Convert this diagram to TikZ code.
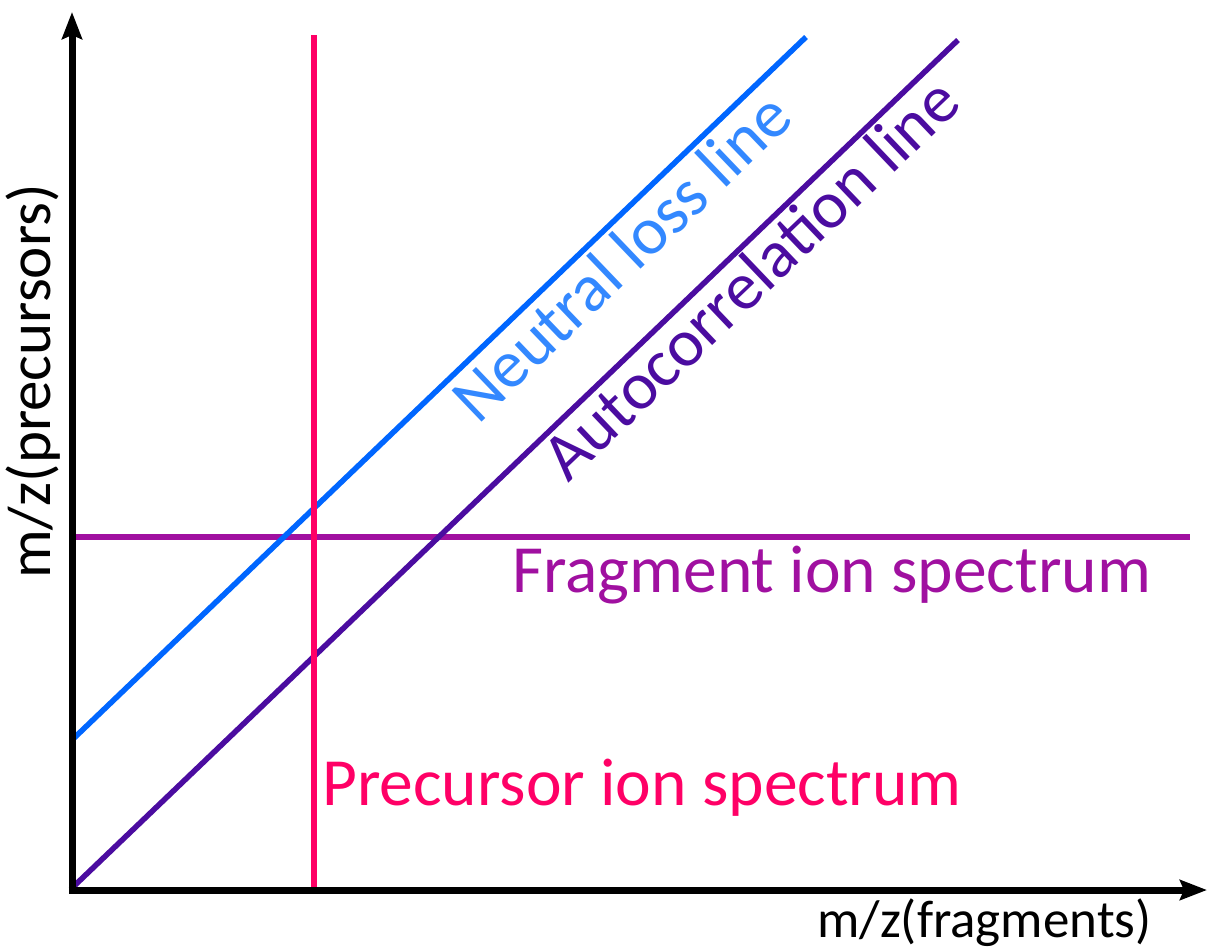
\documentclass[tikz,border=0pt]{standalone}
\usepackage{fontspec}
\setmainfont{Carlito}
\usetikzlibrary{arrows.meta}
\definecolor{nlblue}{RGB}{0,102,255}
\definecolor{nltext}{RGB}{51,136,255}
\definecolor{acpurple}{RGB}{75,12,160}
\definecolor{fragmag}{RGB}{160,16,160}
\definecolor{precpink}{RGB}{255,0,102}
\tikzset{
  axisline/.style={line width=7pt, black, -{Stealth[length=27pt,width=20pt,inset=4pt]}},
  plotline/.style={line width=5.5pt},
  biglabel/.style={font=\fontsize{67.5}{70}\selectfont, inner sep=0pt},
  axislabel/.style={font=\fontsize{53}{56}\selectfont, inner sep=0pt, black}
}
\begin{document}
\begin{tikzpicture}[x=1pt,y=-1pt]
\useasboundingbox (0,0) rectangle (1208,946);
% coordinates
\coordinate (O) at (72,890);
\coordinate (ytip) at (72,12);
\coordinate (xtip) at (1207,890);
\coordinate (fragL) at (72,537);
\coordinate (fragR) at (1190,537);
\coordinate (nlA) at (72,740);
\coordinate (nlB) at (806,37);
\coordinate (acA) at (72,888);
\coordinate (acB) at (958,40);
\coordinate (prT) at (314,35);
\coordinate (prB) at (314,888);
% lines
\draw[plotline, fragmag] (fragL) -- (fragR);
\draw[plotline, nlblue] (nlA) -- (nlB);
\draw[plotline, acpurple] (acA) -- (acB);
\draw[plotline, precpink] (prB) -- (prT);
% axes
\draw[axisline] ([yshift=3.5pt]O) -- (ytip);
\draw[axisline] ([xshift=-3.5pt]O) -- (xtip);
% labels
\node[biglabel, fragmag, anchor=base west] (fraglbl) at (512,592) {Fragment ion spectrum};
\node[biglabel, precpink, anchor=base west] (preclbl) at (322,805) {Precursor ion spectrum};
\node[biglabel, nltext, anchor=base, rotate=43.76] (nllbl) at (637,273) {Neutral loss line};
\node[biglabel, acpurple, anchor=base, rotate=43.62] (aclbl) at (766,295) {Autocorrelation line};
\node[axislabel, anchor=base west] (xlbl) at (817,937) {m/z(fragments)};
\node[axislabel, font=\fontsize{61}{64}\selectfont, anchor=base west, rotate=90] (ylbl) at (50,579) {m/z(precursors)};
\end{tikzpicture}
\end{document}
